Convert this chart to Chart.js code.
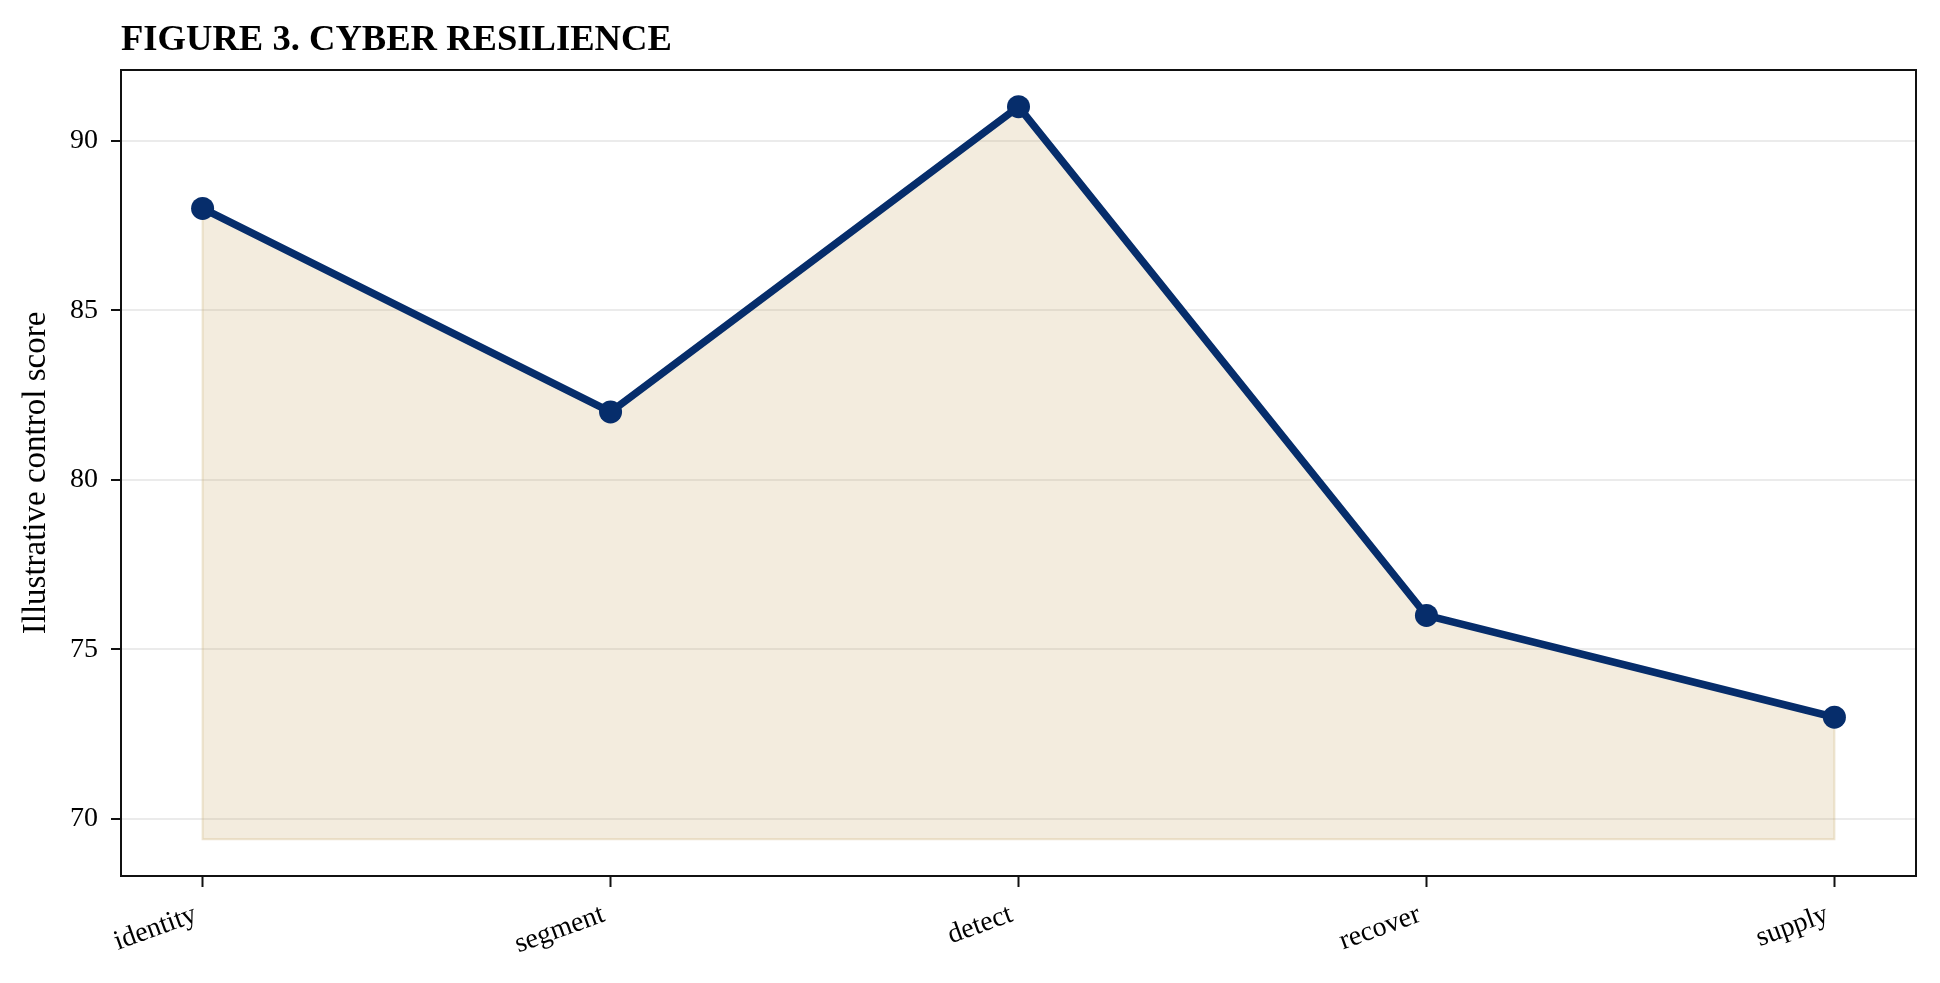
<!DOCTYPE html>
<html>
<head>
<meta charset="utf-8">
<script src="https://cdn.jsdelivr.net/npm/chart.js@4.4.1/dist/chart.umd.min.js"></script>
<style>
  html,body{margin:0;padding:0;background:#fff;}
  #wrap{width:1940px;height:983px;position:relative;}
</style>
</head>
<body>
<div id="wrap"><canvas id="chart"></canvas></div>
<script>
// values
const CATEGORIES = ['identity','segment','detect','recover','supply'];
const SCORES = [88, 82, 91, 76, 73];
const Y_TICKS = [70, 75, 80, 85, 90];
const FILL_BASE = 69.4;
const Y_MIN = 68.32, Y_MAX = 92.08;

const TITLE = 'FIGURE 3. CYBER RESILIENCE';
const Y_LABEL = 'Illustrative control score';

const NAVY = '#062d6b';
const FILL = 'rgba(200,169,106,0.22)';
const FILL_EDGE = 'rgba(200,169,106,0.3)';
const SERIF = '"Liberation Serif","Times New Roman",serif';

const linePts = SCORES.map((v,i)=>({x:i,y:v}));
// outline of the shaded region (bottom + sides only, top sits under the line)
const edgePts = [{x:0,y:SCORES[0]},{x:0,y:FILL_BASE},{x:SCORES.length-1,y:FILL_BASE},{x:SCORES.length-1,y:SCORES[SCORES.length-1]}];

// title + frame drawn by hand, like the matplotlib spines
const frame = {
  id:'frame',
  afterDatasetsDraw(chart){
    const {ctx, chartArea:a} = chart;
    ctx.save();
    ctx.strokeStyle = '#111'; ctx.lineWidth = 2;
    ctx.strokeRect(a.left, a.top, a.right-a.left, a.bottom-a.top);
    ctx.restore();
  },
  afterDraw(chart){
    const {ctx, chartArea:a} = chart;
    ctx.save();
    ctx.fillStyle = '#000';
    ctx.font = 'bold 36.6px ' + SERIF;
    ctx.textAlign = 'left'; ctx.textBaseline = 'alphabetic';
    ctx.fillText(TITLE, a.left, 50);
    ctx.restore();
  }
};

Chart.defaults.font.family = SERIF;
Chart.defaults.color = '#000';

new Chart(document.getElementById('chart'), {
  type:'line',
  data:{
    datasets:[
      {data:linePts, borderColor:NAVY, borderWidth:7.5, backgroundColor:FILL,
       fill:{value:FILL_BASE}, pointRadius:11.5, pointBackgroundColor:NAVY, pointBorderWidth:0,
       pointHoverRadius:11.5, tension:0, borderJoinStyle:'round', order:1},
      {data:edgePts, borderColor:FILL_EDGE, borderWidth:2, fill:false, pointRadius:0, order:2}
    ]
  },
  options:{
    responsive:true, maintainAspectRatio:false, animation:false, devicePixelRatio:1,
    layout:{padding:{top:70, right:24, bottom:0, left:0}},
    plugins:{legend:{display:false}, tooltip:{enabled:false}, title:{display:false}},
    scales:{
      x:{
        type:'linear', min:-0.2, max:SCORES.length-1+0.2,
        afterBuildTicks:s=>{ s.ticks = CATEGORIES.map((c,i)=>({value:i})); },
        afterFit:s=>{ s.height = 107; },
        ticks:{callback:v=>CATEGORIES[v], autoSkip:false, minRotation:20, maxRotation:20,
               font:{size:28}, padding:11, labelOffset:-7},
        grid:{drawOnChartArea:false, drawTicks:true, tickLength:11, tickColor:'#111', tickWidth:2},
        border:{display:false}
      },
      y:{
        min:Y_MIN, max:Y_MAX,
        afterBuildTicks:s=>{ s.ticks = Y_TICKS.map(v=>({value:v})); },
        afterFit:s=>{ s.width = 121; },
        ticks:{font:{size:28}, padding:13},
        grid:{color:'#ebebeb', lineWidth:2, tickLength:10, tickColor:'#111', tickWidth:2},
        border:{display:false},
        title:{display:true, text:Y_LABEL, font:{size:33}, padding:{top:17,bottom:0}}
      }
    }
  },
  plugins:[frame]
});
</script>
</body>
</html>
